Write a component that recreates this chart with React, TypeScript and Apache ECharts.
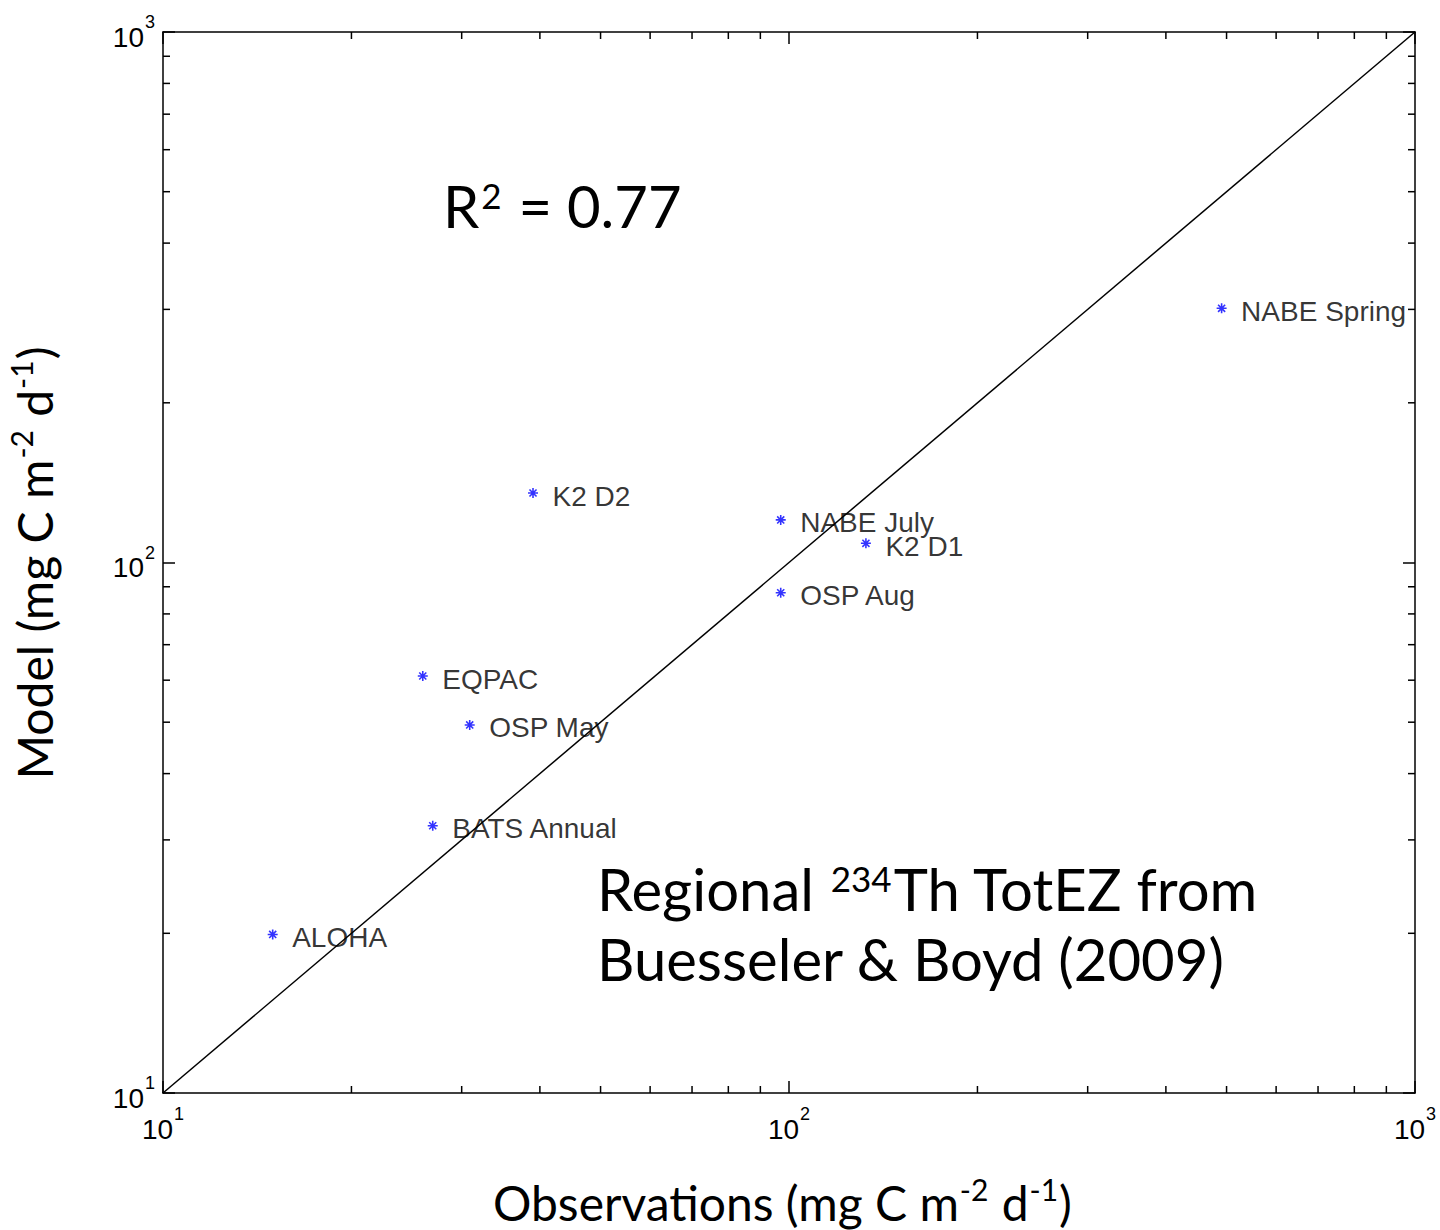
import React, { useEffect, useRef } from "react";
import * as echarts from "echarts";

const categories = ["ALOHA", "BATS Annual", "OSP May", "EQPAC", "K2 D2", "OSP Aug", "NABE July", "K2 D1", "NABE Spring"];
const observations = [14.97, 26.97, 30.9, 26.0, 39.0, 97.0, 97.0, 132.7, 491];
const modelValues = [19.9, 31.9, 49.4, 61.1, 135.2, 87.7, 120.3, 108.7, 301.4];
const oneToOne = [10, 1000];
const minorTickValues = [20, 30, 40, 50, 60, 70, 80, 90, 200, 300, 400, 500, 600, 700, 800, 900];
const axisMin = 10;
const axisMax = 1000;

const ASTERISK = "path://M0,-5L0,5M-5,0L5,0M-3.54,-3.54L3.54,3.54M-3.54,3.54L3.54,-3.54";
const SANS = "'Liberation Sans', Arial, sans-serif";
const CAL = "Lato, 'Noto Sans', sans-serif";

const tickRich = {
  b: { fontSize: 28, fontFamily: SANS, color: "#000", verticalAlign: "bottom" },
  s: { fontSize: 18, fontFamily: SANS, color: "#000", verticalAlign: "bottom", padding: [0, 0, 20, 1] },
};

const tickFormatter = (v: number) => `{b|10}{s|${Math.round(Math.log10(v))}}`;

export default function App() {
  const ref = useRef<HTMLDivElement>(null);
  useEffect(() => {
    document.body.style.margin = "0";
    const chart = echarts.init(ref.current!, null, { renderer: "svg" });
    const scatterData = categories.map((name, i) => ({ name, value: [observations[i], modelValues[i]] }));
    const axisCommon = {
      type: "log" as const,
      logBase: 10,
      min: axisMin,
      max: axisMax,
      splitLine: { show: false },
      axisLine: { show: true, lineStyle: { color: "#000", width: 1.5 } },
      axisTick: { show: true, inside: true, length: 12, lineStyle: { color: "#000", width: 1.5 } },
    };
    const annRich = {
      a: { fontSize: 58, fontFamily: CAL, color: "#000", verticalAlign: "bottom", lineHeight: 70 },
      s: { fontSize: 35, fontFamily: CAL, color: "#000", verticalAlign: "bottom", padding: [0, 2, 22, 2] },
    };
    const nameRich = {
      a: { fontSize: 48, fontFamily: CAL, color: "#000", verticalAlign: "bottom" },
      s: { fontSize: 30, fontFamily: CAL, color: "#000", verticalAlign: "bottom", padding: [0, 1, 22, 1] },
    };
    chart.setOption({
      animation: false,
      backgroundColor: "#fff",
      grid: { left: 163, right: 25, top: 32, bottom: 137 },
      xAxis: [
        {
          ...axisCommon,
          position: "bottom",
          axisLabel: { show: true, margin: 12, fontSize: 28, formatter: tickFormatter, rich: tickRich },
        },
        {
          ...axisCommon,
          position: "top",
          axisLabel: { show: false },
        },
      ],
      yAxis: [
        {
          ...axisCommon,
          position: "left",
          axisLabel: { show: true, margin: 8, fontSize: 28, formatter: tickFormatter, rich: tickRich },
        },
        {
          ...axisCommon,
          position: "right",
          axisLabel: { show: false },
        },
      ],
      graphic: [
        {
          type: "text",
          left: 443,
          top: 176,
          style: { text: "{a|R}{s|2}{a| = 0.77}", rich: annRich },
        },
        {
          type: "text",
          left: 597,
          top: 859,
          style: { text: "{a|Regional }{s|234}{a|Th TotEZ from}\n{a|Buesseler & Boyd (2009)}", rich: annRich },
        },
        {
          type: "text",
          left: 493,
          top: 1174,
          style: { text: "{a|Observations (mg C m}{s|-2}{a| d}{s|-1}{a|)}", rich: nameRich },
        },
        {
          type: "text",
          x: 6,
          y: 563,
          rotation: Math.PI / 2,
          style: {
            text: "{a|Model (mg C m}{s|-2}{a| d}{s|-1}{a|)}",
            rich: nameRich,
            align: "center",
            verticalAlign: "top",
          },
        },
      ],
      series: [
        {
          type: "line",
          data: [[oneToOne[0], oneToOne[0]], [oneToOne[1], oneToOne[1]]],
          showSymbol: false,
          symbol: "none",
          lineStyle: { color: "#000", width: 1.5 },
          silent: true,
          z: 1,
        },
        {
          type: "custom",
          silent: true,
          data: minorTickValues.map((v) => [v, v]),
          renderItem: (_params: any, api: any) => {
            const v = api.value(0);
            const bx = api.coord([v, axisMin]);
            const tx = api.coord([v, axisMax]);
            const ly = api.coord([axisMin, v]);
            const ry = api.coord([axisMax, v]);
            const st = { stroke: "#000", lineWidth: 1.5 };
            const L = 7;
            return {
              type: "group",
              children: [
                { type: "line", shape: { x1: bx[0], y1: bx[1], x2: bx[0], y2: bx[1] - L }, style: st },
                { type: "line", shape: { x1: tx[0], y1: tx[1], x2: tx[0], y2: tx[1] + L }, style: st },
                { type: "line", shape: { x1: ly[0], y1: ly[1], x2: ly[0] + L, y2: ly[1] }, style: st },
                { type: "line", shape: { x1: ry[0], y1: ry[1], x2: ry[0] - L, y2: ry[1] }, style: st },
              ],
            };
          },
          z: 2,
        },
        {
          type: "scatter",
          data: scatterData,
          symbol: ASTERISK,
          symbolSize: 10,
          itemStyle: { color: "none", borderColor: "#0000ff", borderWidth: 1.6 },
          label: {
            show: true,
            position: "right",
            distance: 12,
            offset: [0, 3],
            formatter: "{b}",
            fontSize: 28,
            fontFamily: SANS,
            color: "#000",
          },
          z: 3,
        },
      ],
    });
    return () => chart.dispose();
  }, []);
  return <div ref={ref} style={{ width: 1440, height: 1230 }} />;
}
